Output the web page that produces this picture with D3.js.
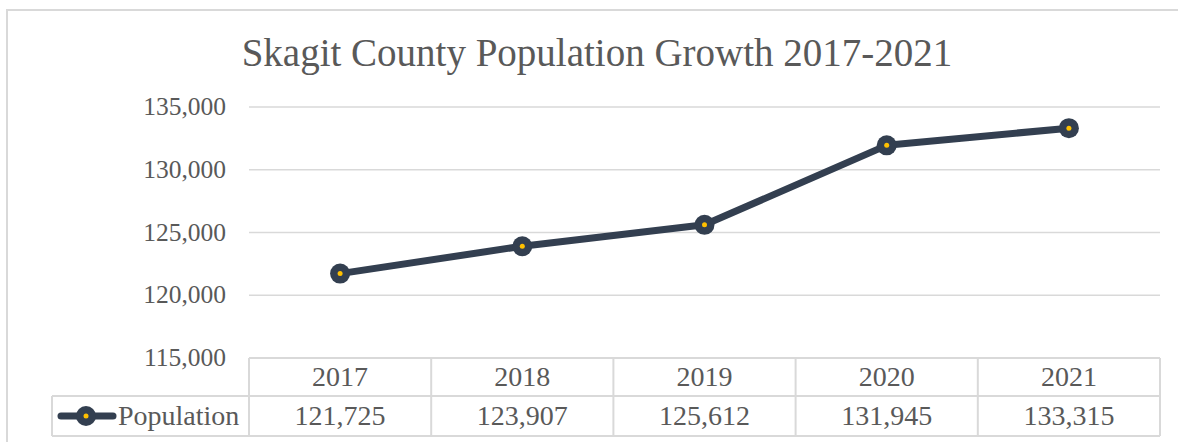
<!DOCTYPE html>
<html><head><meta charset="utf-8">
<script src="https://cdn.jsdelivr.net/npm/d3@7"></script>
<style>body{margin:0;background:#fff}svg{display:block}text{font-family:"Liberation Serif","Times New Roman",serif;fill:#595959}</style>
</head><body>
<svg id="c" width="1178" height="442"></svg>
<script>
(function(){
const title = "Skagit County Population Growth 2017-2021";
const years = ["2017","2018","2019","2020","2021"];
const population = [121725, 123907, 125612, 131945, 133315];
const yTicks = [115000, 120000, 125000, 130000, 135000];
const seriesName = "Population";

const svg = d3.select("#c");
const W = 1178, H = 442;
const grid = "#d9d9d9", lineC = "#333f50", dotC = "#ffc000";

// outer chart border
svg.append("rect").attr("x",7).attr("y",10).attr("width",W+10).attr("height",H+10)
  .attr("fill","none").attr("stroke",grid).attr("stroke-width",2);

const pLeft = 249, pRight = 1160, pTop = 107, pBottom = 358;
const x = d3.scaleBand().domain(years).range([pLeft,pRight]);
const y = d3.scaleLinear().domain([115000,135000]).range([pBottom,pTop]);

// gridlines
svg.append("g").selectAll("line").data(yTicks.slice(1)).join("line")
  .attr("x1",pLeft).attr("x2",pRight).attr("y1",d=>y(d)).attr("y2",d=>y(d))
  .attr("stroke",grid).attr("stroke-width",1.5);

// y axis labels
const fmt = d3.format(",");
svg.append("g").selectAll("text").data(yTicks).join("text")
  .attr("x",226).attr("y",d=>y(d)+8).attr("text-anchor","end")
  .attr("font-size",25.5).text(d=>fmt(d));

// title
svg.append("text").attr("x",597).attr("y",66).attr("text-anchor","middle")
  .attr("font-size",39).text(title);

// line
const cx = d=>x(d)+x.bandwidth()/2;
svg.append("path").datum(population.map((v,i)=>[cx(years[i]),y(v)]))
  .attr("d",d3.line()).attr("fill","none").attr("stroke",lineC)
  .attr("stroke-width",7).attr("stroke-linejoin","round");
const pts = svg.append("g").selectAll("g").data(population).join("g")
  .attr("transform",(v,i)=>`translate(${cx(years[i])},${y(v)})`);
pts.append("circle").attr("r",10).attr("fill",lineC);
pts.append("circle").attr("r",2.5).attr("fill",dotC);

// data table
const rowMid = 396, tBottom = 436, legL = 52;
const tg = svg.append("g").attr("stroke",grid).attr("stroke-width",2).attr("fill","none");
tg.append("line").attr("x1",pLeft).attr("x2",pRight).attr("y1",pBottom).attr("y2",pBottom);
tg.append("line").attr("x1",legL).attr("x2",pRight).attr("y1",rowMid).attr("y2",rowMid);
tg.append("line").attr("x1",legL).attr("x2",pRight).attr("y1",tBottom).attr("y2",tBottom);
tg.append("line").attr("x1",legL).attr("x2",legL).attr("y1",rowMid).attr("y2",tBottom);
tg.selectAll("line.v").data(years.map(d=>x(d)).concat([pRight])).join("line")
  .attr("class","v")
  .attr("x1",d=>d).attr("x2",d=>d).attr("y1",pBottom).attr("y2",tBottom);

svg.append("g").selectAll("text").data(years).join("text")
  .attr("x",d=>cx(d)).attr("y",386).attr("text-anchor","middle")
  .attr("font-size",28).text(d=>d);
svg.append("g").selectAll("text").data(population).join("text")
  .attr("x",(v,i)=>cx(years[i])).attr("y",425).attr("text-anchor","middle")
  .attr("font-size",28).text(d=>fmt(d));

// legend key
const ly = 416;
svg.append("line").attr("x1",61).attr("x2",113).attr("y1",ly).attr("y2",ly)
  .attr("stroke",lineC).attr("stroke-width",7).attr("stroke-linecap","round");
svg.append("circle").attr("cx",86).attr("cy",ly).attr("r",10).attr("fill",lineC);
svg.append("circle").attr("cx",86).attr("cy",ly).attr("r",2.5).attr("fill",dotC);
svg.append("text").attr("x",118).attr("y",425).attr("font-size",28).text(seriesName);
})();
</script>
</body></html>
